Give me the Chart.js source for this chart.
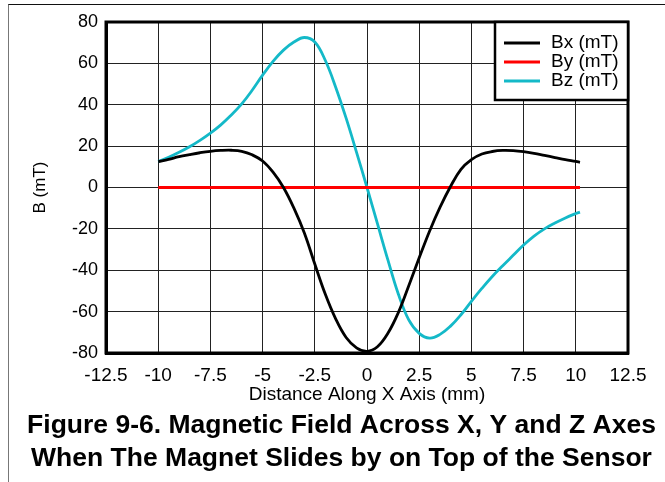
<!DOCTYPE html>
<html>
<head>
<meta charset="utf-8">
<script src="https://cdn.jsdelivr.net/npm/chart.js@4.4.1/dist/chart.umd.min.js"></script>
<style>
    body { margin: 0; background: #fff; }
    #wrap { position: relative; width: 665px; height: 482px; }
    #frame {
        position: absolute; left: 8px; top: 4px; right: 0; bottom: 0;
        border-left: 1px solid #777; border-top: 1px solid #111;
    }
    canvas { position: absolute; left: 0; top: 0; }
</style>
</head>
<body>
<div id="wrap">
    <div id="frame"></div>
    <canvas id="fieldChart" width="665" height="482"></canvas>
</div>
<script>
// Positions along the X axis (mm)
const positions = [-10, -9.5, -9, -8.5, -8, -7.5, -7, -6.5, -6, -5.5, -5, -4.5, -4, -3.5, -3, -2.5, -2, -1.5, -1, -0.5,
    0, 0.5, 1, 1.5, 2, 2.5, 3, 3.5, 4, 4.5, 5, 5.5, 6, 6.5, 7, 7.5, 8, 8.5, 9, 9.5, 10, 10.2];

// Field components (mT)
const bxValues = [12.5, 13.6, 14.9, 15.9, 16.8, 17.5, 17.9, 18.0, 17.5, 15.8, 12.8, 7.4, 0, -10, -22, -37, -51.5, -63.5, -72.5, -77.5,
    -79.2, -77, -70.5, -60.5, -47.5, -34, -21, -9.5, 0.5, 8.8, 13.5, 16.2, 17.4, 17.9, 17.8, 17.3, 16.5, 15.5, 14.5, 13.5, 12.6, 12.2];
const byValues = [0, 0, 0, 0, 0, 0, 0, 0, 0, 0, 0, 0, 0, 0, 0, 0, 0, 0, 0, 0,
    0, 0, 0, 0, 0, 0, 0, 0, 0, 0, 0, 0, 0, 0, 0, 0, 0, 0, 0, 0, 0, 0];
const bzValues = [12.5, 14.6, 17, 19.7, 22.8, 26.3, 30.3, 35, 40.4, 47, 54.3, 61, 66.4, 70.3, 72.5, 70.3, 61.5, 48.5, 33.5, 17,
    0, -17.5, -35, -51.5, -64, -70.5, -72.8, -71, -67, -61.5, -55, -48.8, -43, -37.8, -32.8, -27.8, -23.5, -20, -17.2, -14.7, -12.6, -11.9];

const seriesNames = ['Bx (mT)', 'By (mT)', 'Bz (mT)'];
const seriesColors = ['#000000', '#ff0000', '#14b9c8'];

const xTicks = { min: -12.5, max: 12.5, step: 2.5 };
const yTicks = { min: -80, max: 80, step: 20 };

const captionLines = ['Figure 9-6. Magnetic Field Across X, Y and Z Axes',
                      'When The Magnet Slides by on Top of the Sensor'];

const FONT = '"Liberation Sans", Arial, sans-serif';

function toPoints(values) {
    return positions.map((x, i) => ({ x: x, y: values[i] }));
}

// Box around the plot, boxed legend in the top-right corner, caption underneath
const framePlugin = {
    id: 'framePlugin',
    afterDraw(chart) {
        const ctx = chart.ctx;
        const a = chart.chartArea;
        ctx.save();
        ctx.strokeStyle = '#000';
        ctx.lineWidth = 3;
        ctx.strokeRect(a.left, a.top, a.right - a.left, a.bottom - a.top);

        // legend
        const w = 133, h = 78;
        const lx = a.right - w, ly = a.top;
        ctx.fillStyle = '#fff';
        ctx.fillRect(lx, ly, w, h);
        ctx.lineWidth = 2.5;
        ctx.strokeRect(lx, ly, w, h);
        ctx.font = '19px ' + FONT;
        ctx.textBaseline = 'middle';
        chart.data.datasets.forEach((ds, i) => {
            const y = ly + 21 + i * 19;
            ctx.strokeStyle = ds.borderColor;
            ctx.lineWidth = 3;
            ctx.beginPath();
            ctx.moveTo(lx + 9, y);
            ctx.lineTo(lx + 45, y);
            ctx.stroke();
            ctx.fillStyle = '#000';
            ctx.fillText(ds.label, lx + 56, y);
        });

        // caption
        ctx.fillStyle = '#000';
        ctx.font = 'bold 26.5px ' + FONT;
        ctx.textAlign = 'center';
        captionLines.forEach((line, i) => {
            ctx.fillText(line, 341.5, 426 + i * 33);
        });
        ctx.restore();
    }
};

const tickFont = { family: FONT, size: 19 };

new Chart(document.getElementById('fieldChart'), {
    type: 'line',
    data: {
        datasets: [
            { label: seriesNames[0], data: toPoints(bxValues), borderColor: seriesColors[0] },
            { label: seriesNames[1], data: toPoints(byValues), borderColor: seriesColors[1] },
            { label: seriesNames[2], data: toPoints(bzValues), borderColor: seriesColors[2] }
        ].map(ds => Object.assign(ds, {
            borderWidth: 2.8,
            pointRadius: 0,
            fill: false,
            tension: 0.4
        }))
    },
    options: {
        responsive: false,
        animation: false,
        layout: { padding: { left: 8, right: 37, top: 22, bottom: 76 } },
        scales: {
            x: {
                type: 'linear',
                min: xTicks.min,
                max: xTicks.max,
                ticks: { stepSize: xTicks.step, color: '#000', font: tickFont, padding: 11, maxRotation: 0 },
                grid: { color: '#222', lineWidth: 1, drawTicks: false },
                border: { color: '#000', width: 3 },
                title: {
                    display: true,
                    text: 'Distance Along X Axis (mm)',
                    color: '#000',
                    font: { family: FONT, size: 19 },
                    padding: { top: 0, bottom: 0 }
                },
                afterFit(scale) { scale.height = 53; }
            },
            y: {
                min: yTicks.min,
                max: yTicks.max,
                ticks: { stepSize: yTicks.step, color: '#000', font: { family: FONT, size: 18 }, padding: 8 },
                grid: { color: '#222', lineWidth: 1, drawTicks: false },
                border: { color: '#000', width: 3 },
                title: {
                    display: true,
                    text: 'B (mT)',
                    color: '#000',
                    font: { family: FONT, size: 17 },
                    padding: { top: 22, bottom: 0 }
                },
                afterFit(scale) { scale.width = 98; }
            }
        },
        plugins: {
            legend: { display: false },
            tooltip: { enabled: false }
        }
    },
    plugins: [framePlugin]
});
</script>
</body>
</html>
